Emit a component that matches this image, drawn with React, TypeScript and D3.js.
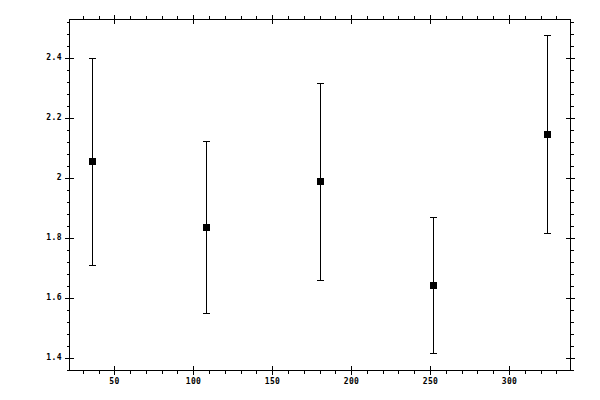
import * as d3 from "d3";
import React, { useEffect, useRef } from "react";

// values
const xValues = [36, 108, 180, 252, 324];
const yValues = [2.057, 1.837, 1.99, 1.643, 2.147];
const yLow = [1.71, 1.55, 1.66, 1.417, 1.817];
const yHigh = [2.4, 2.123, 2.317, 1.87, 2.478];

const xMajorTicks = [50, 100, 150, 200, 250, 300];
const yMajorTicks = [1.4, 1.6, 1.8, 2, 2.2, 2.4];

const W = 600;
const H = 400;
const left = 69.5;
const right = 570.5;
const top = 19.5;
const bottom = 370.5;

const App: React.FC = () => {
  const svgRef = useRef<SVGSVGElement>(null);

  useEffect(() => {
    document.body.style.margin = "0";
    const svg = d3.select(svgRef.current);
    svg.selectAll("*").remove();

    const x = d3.scaleLinear().domain([21.6, 339]).range([left, right]);
    const y = d3.scaleLinear().domain([1.3577, 2.53]).range([bottom, top]);

    const xMinor = d3.range(30, 339, 10).filter((v) => v % 50 !== 0);
    const yMinor = d3
      .range(1.36, 2.53, 0.04)
      .map((v) => +v.toFixed(2))
      .filter((v) => !yMajorTicks.some((m) => Math.abs(m - v) < 1e-6));

    const g = svg.append("g").attr("shape-rendering", "crispEdges");

    // frame
    g.append("rect")
      .attr("x", left)
      .attr("y", top)
      .attr("width", right - left)
      .attr("height", bottom - top)
      .attr("fill", "none")
      .attr("stroke", "#000");

    const tick = (x1: number, y1: number, x2: number, y2: number) =>
      g
        .append("line")
        .attr("x1", x1)
        .attr("y1", y1)
        .attr("x2", x2)
        .attr("y2", y2)
        .attr("stroke", "#000");

    // x ticks, top and bottom
    xMinor.forEach((v) => {
      const px = Math.round(x(v)) + 0.5;
      tick(px, top, px, top - 3.5);
      tick(px, bottom, px, bottom + 3.5);
    });
    xMajorTicks.forEach((v) => {
      const px = Math.round(x(v)) + 0.5;
      tick(px, top - 4.5, px, top + 4);
      tick(px, bottom - 4.5, px, bottom + 4);
    });

    // y ticks, left and right
    yMinor.forEach((v) => {
      const py = Math.round(y(v)) + 0.5;
      tick(left, py, left - 3, py);
      tick(right, py, right + 3.5, py);
    });
    yMajorTicks.forEach((v) => {
      const py = Math.round(y(v)) + 0.5;
      tick(left - 4.5, py, left + 4, py);
      tick(right - 4.5, py, right + 4.5, py);
    });

    const labels = svg
      .append("g")
      .attr("font-family", "DejaVu Sans Mono, monospace")
      .attr("font-size", 8)
      .attr("font-weight", "bold")
      .attr("letter-spacing", 0.4)
      .attr("fill", "#000");

    labels
      .selectAll("text.x")
      .data(xMajorTicks)
      .join("text")
      .attr("class", "x")
      .attr("x", (d) => Math.round(x(d)) + 0.5)
      .attr("y", 384)
      .attr("text-anchor", "middle")
      .text((d) => String(d));

    labels
      .selectAll("text.y")
      .data(yMajorTicks)
      .join("text")
      .attr("class", "y")
      .attr("x", 62)
      .attr("y", (d) => Math.round(y(d)) + 2)
      .attr("text-anchor", "end")
      .text((d) => d3.format("")(d));

    // error bars
    const bars = svg
      .append("g")
      .attr("shape-rendering", "crispEdges")
      .selectAll("g")
      .data(xValues.map((xv, i) => ({ xv, yv: yValues[i], lo: yLow[i], hi: yHigh[i] })))
      .join("g");

    bars
      .append("line")
      .attr("x1", (d) => Math.round(x(d.xv)) + 0.5)
      .attr("x2", (d) => Math.round(x(d.xv)) + 0.5)
      .attr("y1", (d) => Math.round(y(d.hi)) + 0.5)
      .attr("y2", (d) => Math.round(y(d.lo)) + 0.5)
      .attr("stroke", "#000");

    ["hi", "lo"].forEach((k) => {
      bars
        .append("line")
        .attr("x1", (d) => Math.round(x(d.xv)) - 3)
        .attr("x2", (d) => Math.round(x(d.xv)) + 4)
        .attr("y1", (d) => Math.round(y((d as any)[k])) + 0.5)
        .attr("y2", (d) => Math.round(y((d as any)[k])) + 0.5)
        .attr("stroke", "#000");
    });

    bars
      .append("rect")
      .attr("x", (d) => Math.round(x(d.xv)) - 3)
      .attr("y", (d) => Math.round(y(d.yv)) - 3)
      .attr("width", 7)
      .attr("height", 7)
      .attr("fill", "#000");
  }, []);

  return (
    <svg ref={svgRef} width={W} height={H} style={{ display: "block", background: "#fff" }} />
  );
};

export default App;
